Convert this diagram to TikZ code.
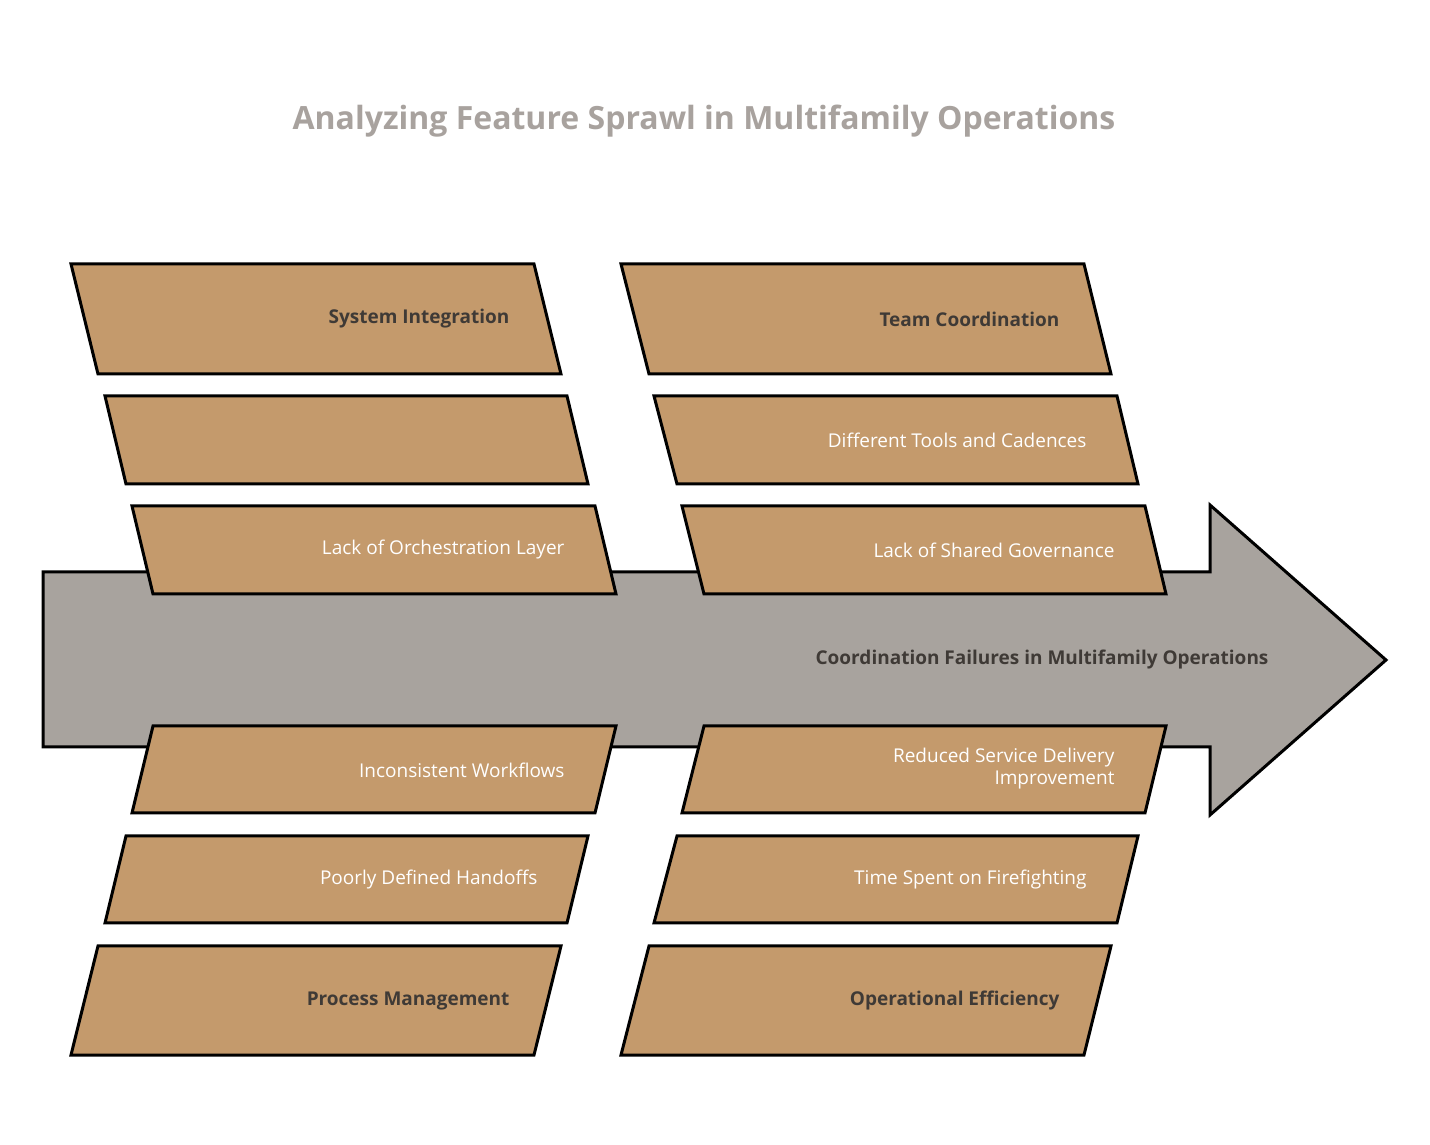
\documentclass[tikz,border=0pt]{standalone}
\usepackage{fontspec}
\setmainfont{Open Sans}
\definecolor{tan}{HTML}{C49A6C}
\definecolor{arr}{HTML}{A8A39E}
\definecolor{ttl}{HTML}{A8A29E}
\definecolor{dk}{HTML}{3F3A36}
\tikzset{box/.style={draw=black,line width=3pt,fill=tan,line join=miter},
 hd/.style={anchor=east,font=\fontsize{19}{22}\selectfont\bfseries,text=dk},
 lb/.style={anchor=east,font=\fontsize{19}{22}\selectfont,text=white,align=right}}
\newcommand{\pg}[8]{\draw[box] (#1,1144-#3)--(#2,1144-#3)--(#5,1144-#6)--(#4,1144-#6)--cycle;}
\begin{document}
\begin{tikzpicture}[x=1pt,y=1pt]
\useasboundingbox (0,0) rectangle (1430,1144);
\node[font=\fontsize{32}{36}\selectfont\bfseries,text=ttl] (title) at (704,1144-121) {Analyzing Feature Sprawl in Multifamily Operations};
\draw[line width=3pt,fill=arr,line join=miter] (43,1144-572)--(1210,1144-572)--(1210,1144-505)--(1386,1144-660)--(1210,1144-815)--(1210,1144-747)--(43,1144-747)--cycle;
\node[hd] (spine) at (1272,1144-660) {Coordination Failures in Multifamily Operations};
% top left
\pg{71}{534}{264}{98}{561}{374}{}{}
\pg{105}{567}{396}{126}{588}{484}{}{}
\pg{132}{595}{506}{153}{616}{594}{}{}
\pg{621}{1084}{264}{649}{1111}{374}{}{}
\pg{654}{1117}{396}{677}{1138}{484}{}{}
\pg{682}{1145}{506}{704}{1166}{594}{}{}
\pg{153}{616}{726}{132}{595}{813}{}{}
\pg{126}{588}{836}{105}{567}{923}{}{}
\pg{98}{561}{946}{71}{534}{1055}{}{}
\pg{704}{1166}{726}{682}{1145}{813}{}{}
\pg{677}{1138}{836}{654}{1117}{923}{}{}
\pg{649}{1111}{946}{621}{1084}{1055}{}{}
\node[hd] (a) at (513,1144-319) {System Integration};
\node[lb] (b) at (568,1144-550) {Lack of Orchestration Layer};
\node[hd] (c) at (1063,1144-319) {Team Coordination};
\node[lb] (d) at (1090,1144-440) {Different Tools and Cadences};
\node[lb] (e) at (1118,1144-550) {Lack of Shared Governance};
\node[lb] (f) at (568,1144-770) {Inconsistent Workflows};
\node[lb] (g) at (541,1144-880) {Poorly Defined Handoffs};
\node[hd] (h) at (513,1144-1001) {Process Management};
\node[lb] (i) at (1118,1144-769) {Reduced Service Delivery\\Improvement};
\node[lb] (j) at (1090,1144-880) {Time Spent on Firefighting};
\node[hd] (k) at (1063,1144-1001) {Operational Efficiency};
\end{tikzpicture}
\end{document}
